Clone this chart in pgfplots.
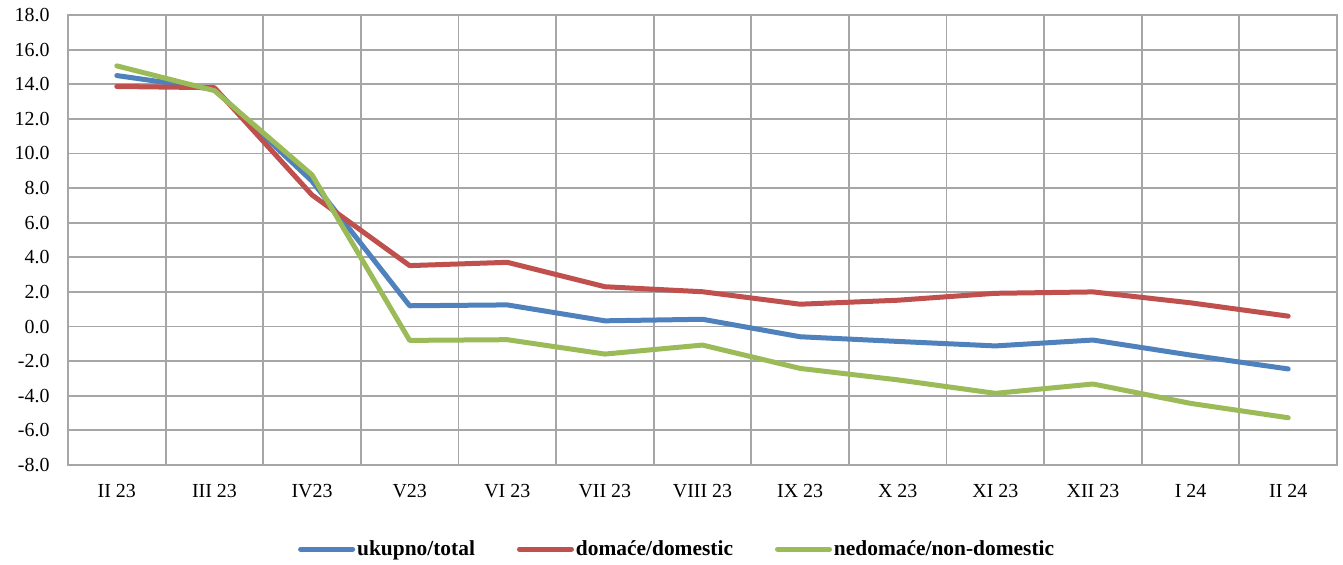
\documentclass[border=0pt]{standalone}
\usepackage{pgfplots}
\pgfplotsset{compat=1.18}
\usepackage{fontspec}
\setmainfont{Liberation Serif}
\definecolor{cblue}{RGB}{79,129,189}
\definecolor{cred}{RGB}{192,80,77}
\definecolor{cgreen}{RGB}{155,187,89}
\definecolor{cgrid}{RGB}{166,166,166}
\begin{document}
\begin{tikzpicture}
\begin{axis}[
  scale only axis, width=1269bp, height=450bp,
  xmin=-0.5, xmax=12.5, ymin=-8, ymax=18,
  xtick={0,...,12},
  xticklabels={II 23, III 23, IV23, V23, VI 23, VII 23, VIII 23, IX 23, X 23, XI 23, XII 23, I 24, II 24},
  minor xtick={0.5,1.5,...,11.5}, xminorgrids,
  ytick={-8,-6,...,18}, ymajorgrids,
  major grid style={cgrid, line width=1.8bp},
  minor grid style={cgrid, line width=1.8bp},
  axis line style={cgrid, line width=1.8bp},
  major tick length=0, minor tick length=0,
  ticklabel style={font=\fontsize{20}{24}\selectfont},
  y tick label style={/pgf/number format/.cd, fixed, fixed zerofill, precision=1, assume math mode=true, /tikz/.cd, xshift=-15bp},
  x tick label style={yshift=-16bp},
  legend style={at={(axis description cs:0.48,-0.187)}, anchor=center, draw=none,
    font=\bfseries\fontsize{21.5}{24}\selectfont, legend columns=3,
    /tikz/every even column/.append style={column sep=40bp}},
  legend image code/.code={\draw[#1] (0bp,0bp) -- (52bp,0bp);},
  every axis plot/.append style={line width=5bp, line join=round, line cap=round},
]
\addplot[cblue] coordinates {(0,14.5) (1,13.7) (2,8.4) (3,1.2) (4,1.25) (5,0.33) (6,0.42) (7,-0.59) (8,-0.86) (9,-1.12) (10,-0.78) (11,-1.65) (12,-2.45)};
\addlegendentry{ukupno/total}
\addplot[cred] coordinates {(0,13.87) (1,13.8) (2,7.6) (3,3.52) (4,3.71) (5,2.3) (6,2.01) (7,1.29) (8,1.52) (9,1.92) (10,2.0) (11,1.37) (12,0.6)};
\addlegendentry{domaće/domestic}
\addplot[cgreen] coordinates {(0,15.06) (1,13.63) (2,8.76) (3,-0.8) (4,-0.76) (5,-1.59) (6,-1.07) (7,-2.42) (8,-3.08) (9,-3.86) (10,-3.32) (11,-4.44) (12,-5.27)};
\addlegendentry{nedomaće/non-domestic}
\end{axis}
\pgfresetboundingbox
\path (current axis.south west) ++(-68bp,-100bp) rectangle ++(1343bp,565bp);
\end{tikzpicture}
\end{document}
